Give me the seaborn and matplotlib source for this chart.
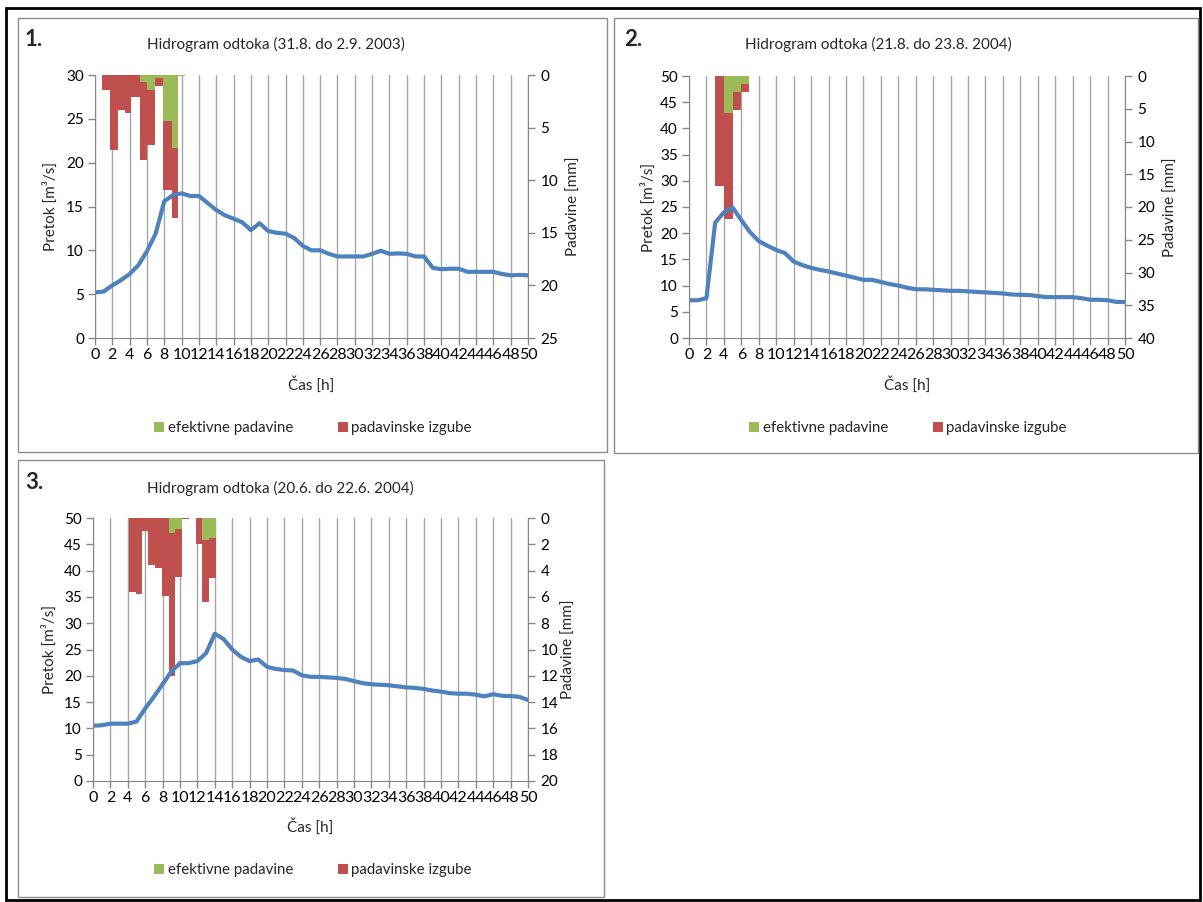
import numpy as np
import pandas as pd
import matplotlib
matplotlib.use("Agg")
import matplotlib.pyplot as plt
from matplotlib.patches import Rectangle, Patch
import seaborn as sns

# ---------------- data ----------------
hours = list(range(0, 51))

flow_1 = [5.2, 5.3, 6.0, 6.6, 7.3, 8.3, 9.9, 11.9, 15.6, 16.3,
          16.5, 16.2, 16.2, 15.4, 14.6, 14.0, 13.6, 13.2, 12.3, 13.1,
          12.2, 12.0, 11.9, 11.4, 10.5, 10.0, 10.0, 9.6, 9.3, 9.3,
          9.3, 9.3, 9.6, 9.95, 9.6, 9.65, 9.6, 9.3, 9.3, 8.0,
          7.85, 7.9, 7.9, 7.55, 7.55, 7.55, 7.55, 7.3, 7.15, 7.2, 7.15]
flow_2 = [7.2, 7.2, 7.6, 22.0, 24.0, 24.9, 22.5, 20.2, 18.5, 17.6,
          16.8, 16.2, 14.6, 13.9, 13.4, 13.0, 12.7, 12.3, 11.9, 11.5,
          11.1, 11.1, 10.7, 10.3, 10.0, 9.6, 9.3, 9.3, 9.2, 9.1,
          9.0, 9.0, 8.9, 8.8, 8.7, 8.6, 8.5, 8.3, 8.25, 8.2,
          8.0, 7.8, 7.8, 7.8, 7.8, 7.6, 7.3, 7.3, 7.2, 6.9, 6.85]
flow_3 = [10.5, 10.6, 10.9, 10.9, 10.9, 11.3, 13.8, 16.0, 18.4, 20.8,
          22.4, 22.4, 22.8, 24.3, 28.0, 27.0, 25.0, 23.6, 22.8, 23.1,
          21.7, 21.3, 21.1, 21.0, 20.1, 19.8, 19.8, 19.7, 19.6, 19.4,
          19.0, 18.6, 18.4, 18.3, 18.2, 18.0, 17.8, 17.7, 17.5, 17.2,
          17.0, 16.7, 16.6, 16.6, 16.4, 16.1, 16.5, 16.2, 16.15, 16.0, 15.4]

rain_edges_1 = [0.85, 1.75, 2.6, 3.5, 4.2, 5.2, 6.0, 6.95, 7.9, 8.9, 9.6, 10.4]
rain_eff_1 = [0, 0, 0, 0, 0, 0.65, 1.4, 0.3, 4.4, 6.9, 0.05]
rain_loss_1 = [1.4, 7.1, 3.3, 3.65, 2.05, 7.4, 5.25, 0.75, 6.5, 6.7, 0.05]

rain_edges_2 = [3.0, 4.0, 5.0, 6.0, 6.85]
rain_eff_2 = [0, 5.7, 2.4, 1.2]
rain_loss_2 = [16.8, 16.2, 2.8, 1.2]

rain_edges_3 = [4.1, 4.9, 5.6, 6.3, 7.1, 7.9, 8.7, 9.4, 10.2, 11.0, 11.85, 12.5, 13.3, 14.1]
rain_eff_3 = [0, 0, 0, 0, 0, 0, 1.15, 0.8, 0.03, 0, 0, 1.7, 1.5]
rain_loss_3 = [5.65, 5.75, 1.0, 3.55, 3.8, 5.9, 10.85, 3.7, 0.03, 0, 2.0, 4.65, 3.1]

titles = ["Hidrogram odtoka (31.8. do 2.9. 2003)",
          "Hidrogram odtoka (21.8. do 23.8. 2004)",
          "Hidrogram odtoka (20.6. do 22.6. 2004)"]
numbers = ["1.", "2.", "3."]
flow_max = [30, 50, 50]
rain_max = [25, 40, 20]
rain_step = [5, 5, 2]
x_ticks = list(range(0, 51, 2))

label_eff = "efektivne padavine"
label_loss = "padavinske izgube"
label_q = "Pretok [m³/s]"
label_p = "Padavine [mm]"
label_t = "Čas [h]"

# ---------------- style ----------------
W, H = 1203, 902
sns.set_style("white")
plt.rcParams["font.family"] = ["Lato", "DejaVu Sans"]

BLUE = "#4F81BD"
GREEN = "#9BBB59"
RED = "#C0504D"
SPINE = "#868686"
GRID = "#A6A6A6"

fig = plt.figure(figsize=(W / 100, H / 100), dpi=100)
fig.patch.set_facecolor("white")


def fx(x):
    return x / W


def fy(y):
    return 1 - y / H


panel_boxes = [(18, 18, 607, 452), (614, 18, 1198, 453), (18, 460, 604, 897)]
axes_boxes = [(95, 75, 528, 338), (689, 76, 1125, 338), (93, 518, 528, 781)]
num_pos = [(25, 39), (624, 39), (25, 482)]
title_pos = [(276, 44), (878, 44), (280, 488)]
legend_pos = [(313, 428), (908, 428), (313, 870)]
ylab_left_x = [50, 648, 49]
ylab_right_x = [574, 1171, 569]
xlab_y = [385, 385, 827]

flows = [flow_1, flow_2, flow_3]
edges_all = [rain_edges_1, rain_edges_2, rain_edges_3]
effs = [rain_eff_1, rain_eff_2, rain_eff_3]
losses = [rain_loss_1, rain_loss_2, rain_loss_3]

# outer frame
fig.add_artist(Rectangle((fx(6), fy(900)), (1200 - 6) / W, (900 - 8) / H,
                         transform=fig.transFigure, fill=False,
                         edgecolor="black", lw=2))

for i in range(3):
    # chart area border
    x0, y0, x1, y1 = panel_boxes[i]
    fig.add_artist(Rectangle((fx(x0), fy(y1)), (x1 - x0) / W, (y1 - y0) / H,
                             transform=fig.transFigure, fill=False,
                             edgecolor="#8C8C8C", lw=1))

    l, t, r, b = axes_boxes[i]
    ax = fig.add_axes([fx(l), fy(b), (r - l) / W, (b - t) / H])
    ax2 = ax.twinx()
    ax.set_zorder(ax2.get_zorder() + 1)
    ax.patch.set_visible(False)

    # rainfall bars (stacked, hanging from top)
    edges = edges_all[i]
    centers = [(edges[k] + edges[k + 1]) / 2 for k in range(len(edges) - 1)]
    df = pd.DataFrame({
        "t": centers + centers,
        "mm": list(effs[i]) + list(losses[i]),
        "vrsta": [label_eff] * len(centers) + [label_loss] * len(centers),
    })
    sns.histplot(data=df, x="t", weights="mm", hue="vrsta",
                 hue_order=[label_loss, label_eff],
                 palette={label_eff: GREEN, label_loss: RED},
                 bins=edges, multiple="stack", alpha=1, linewidth=0,
                 legend=False, ax=ax2)

    # discharge line
    sns.lineplot(x=hours, y=flows[i], ax=ax, color=BLUE, lw=3.0)

    # axes formatting
    ax.set_xlim(0, 50)
    ax.set_xticks(x_ticks)
    ax.set_ylim(0, flow_max[i])
    ax.set_yticks(range(0, flow_max[i] + 1, 5))
    ax2.set_ylim(rain_max[i], 0)
    ax2.set_yticks(range(0, rain_max[i] + 1, rain_step[i]))

    ax2.xaxis.set_visible(True)
    ax2.tick_params(axis="x", which="both", bottom=False, top=False,
                    labelbottom=False, labeltop=False)
    ax2.grid(axis="x", color=GRID, lw=1.0)
    ax2.grid(axis="y", visible=False)
    ax.grid(False)

    ax.tick_params(axis="x", direction="out", length=5, width=1,
                   color=SPINE, labelsize=11.5, labelcolor="black",
                   bottom=True, pad=2)
    ax.tick_params(axis="y", direction="out", length=5, width=1,
                   color=SPINE, labelsize=11, labelcolor="black",
                   left=True, pad=3)
    ax2.tick_params(axis="y", direction="out", length=5, width=1,
                    color=SPINE, labelsize=11, labelcolor="black",
                    right=True, pad=4)

    for s in ["top", "right"]:
        ax.spines[s].set_visible(False)
    for s in ["left", "bottom"]:
        ax.spines[s].set_color(SPINE)
    for s in ["top", "left", "bottom"]:
        ax2.spines[s].set_visible(False)
    ax2.spines["right"].set_color(SPINE)

    # axis labels
    w_ax = r - l
    h_ax = b - t
    ax.set_xlabel(label_t, fontsize=11, va="center")
    ax.xaxis.set_label_coords(0.5, (b - xlab_y[i]) / h_ax)
    ax.set_ylabel(label_q, fontsize=11, va="center")
    ax.yaxis.set_label_coords((ylab_left_x[i] - l) / w_ax, 0.5)
    ax2.set_ylabel(label_p, fontsize=11, va="center", rotation=90)
    ax2.yaxis.set_label_coords((ylab_right_x[i] - l) / w_ax, 0.5)
    ax2.set_xlabel("")

    # title and number
    fig.text(fx(num_pos[i][0]), fy(num_pos[i][1]), numbers[i],
             fontsize=16, fontweight="bold", ha="left", va="center")
    fig.text(fx(title_pos[i][0]), fy(title_pos[i][1]), titles[i],
             fontsize=11, ha="center", va="center")

    # legend
    handles = [Patch(facecolor=GREEN, edgecolor="none"),
               Patch(facecolor=RED, edgecolor="none")]
    fig.legend(handles, [label_eff, label_loss], loc="center",
               bbox_to_anchor=(fx(legend_pos[i][0]), fy(legend_pos[i][1])),
               ncol=2, frameon=False, fontsize=10.8, handlelength=0.65,
               handleheight=0.65, handletextpad=0.25, columnspacing=3.0)

fig.savefig("out.png", dpi=100, facecolor="white")
